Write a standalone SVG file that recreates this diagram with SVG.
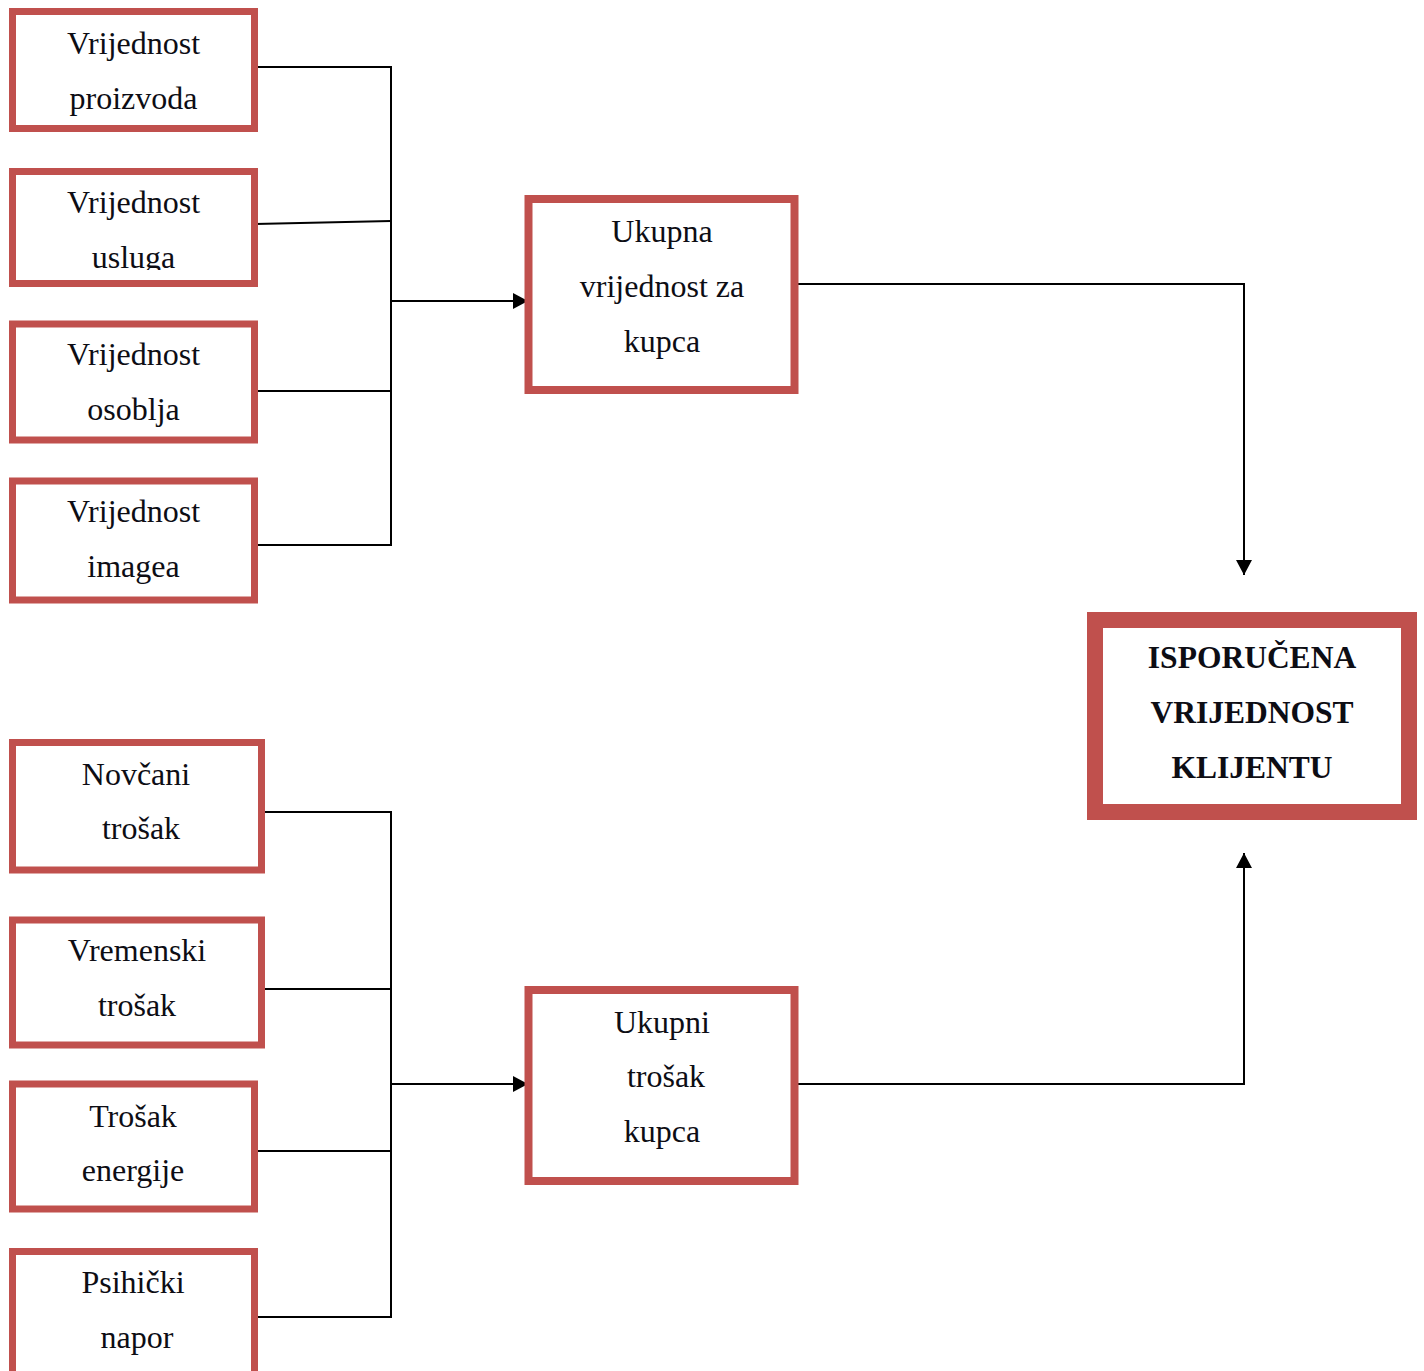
<svg xmlns="http://www.w3.org/2000/svg" width="1424" height="1371" viewBox="0 0 1424 1371">
<style>
.box{fill:#fff;stroke:#C0504D;stroke-width:7}
.mid{fill:#fff;stroke:#C0504D;stroke-width:8}
.big{fill:#fff;stroke:#C0504D;stroke-width:16}
.t{font-family:"Liberation Serif","Times New Roman",serif;font-size:32px;fill:#0d0d14;text-anchor:middle}
.b{font-weight:bold;font-size:31.5px}
.c{fill:none;stroke:#000;stroke-width:2}
</style>
<defs>
<marker id="ah" viewBox="0 0 15 16" refX="15" refY="8" markerWidth="15" markerHeight="16" markerUnits="userSpaceOnUse" orient="auto">
<path d="M0,0 L15,8 L0,16 z" fill="#000"/>
</marker>
<clipPath id="clipUsluga"><rect x="0" y="0" width="300" height="270"/></clipPath>
</defs>
<rect width="1424" height="1371" fill="#fff"/>
<g id="connectors">
<path class="c" d="M255,67 H391 V545 H255"/>
<path class="c" d="M255,224 L391,221"/>
<path class="c" d="M255,391 H391"/>
<path class="c" d="M391,301 H528" marker-end="url(#ah)"/>
<path class="c" d="M262,812 H391 V1317 H255"/>
<path class="c" d="M262,989 H391"/>
<path class="c" d="M255,1151 H391"/>
<path class="c" d="M391,1084 H528" marker-end="url(#ah)"/>
<path class="c" d="M795,284 H1244 V575" marker-end="url(#ah)"/>
<path class="c" d="M795,1084 H1244 V853" marker-end="url(#ah)"/>
</g>
<g id="n1"><rect class="box" x="12.5" y="11.5" width="242" height="117"/>
<text class="t" x="133.5" y="54">Vrijednost</text><text class="t" x="133.5" y="109">proizvoda</text></g>
<g id="n2"><rect class="box" x="12.5" y="171.5" width="242" height="112"/>
<text class="t" x="133.5" y="213">Vrijednost</text><text class="t" x="133.5" y="268" clip-path="url(#clipUsluga)">usluga</text></g>
<g id="n3"><rect class="box" x="12.5" y="324" width="242" height="116"/>
<text class="t" x="133.5" y="365">Vrijednost</text><text class="t" x="133.5" y="420">osoblja</text></g>
<g id="n4"><rect class="box" x="12.5" y="481" width="242" height="119"/>
<text class="t" x="133.5" y="522">Vrijednost</text><text class="t" x="133.5" y="577">imagea</text></g>
<g id="n5"><rect class="box" x="12.5" y="742.5" width="249" height="127.5"/>
<text class="t" x="136" y="785">Novčani</text><text class="t" x="141" y="839">trošak</text></g>
<g id="n6"><rect class="box" x="12.5" y="920" width="249" height="125"/>
<text class="t" x="137" y="961">Vremenski</text><text class="t" x="137" y="1016">trošak</text></g>
<g id="n7"><rect class="box" x="12.5" y="1084" width="242" height="125"/>
<text class="t" x="133" y="1127">Trošak</text><text class="t" x="133" y="1181">energije</text></g>
<g id="n8"><rect class="box" x="12.5" y="1251.5" width="242" height="140"/>
<text class="t" x="133" y="1293">Psihički</text><text class="t" x="137" y="1348">napor</text></g>
<g id="m1"><rect class="mid" x="528.5" y="199" width="266" height="191"/>
<text class="t" x="662" y="242">Ukupna</text><text class="t" x="662" y="297">vrijednost za</text><text class="t" x="662" y="352">kupca</text></g>
<g id="m2"><rect class="mid" x="528.5" y="990" width="266" height="191"/>
<text class="t" x="662" y="1033">Ukupni</text><text class="t" x="666" y="1087">trošak</text><text class="t" x="662" y="1142">kupca</text></g>
<g id="result"><rect class="big" x="1095" y="620" width="314" height="192"/>
<text class="t b" x="1252" y="668">ISPORUČENA</text><text class="t b" x="1252" y="723">VRIJEDNOST</text><text class="t b" x="1252" y="778">KLIJENTU</text></g>
</svg>
